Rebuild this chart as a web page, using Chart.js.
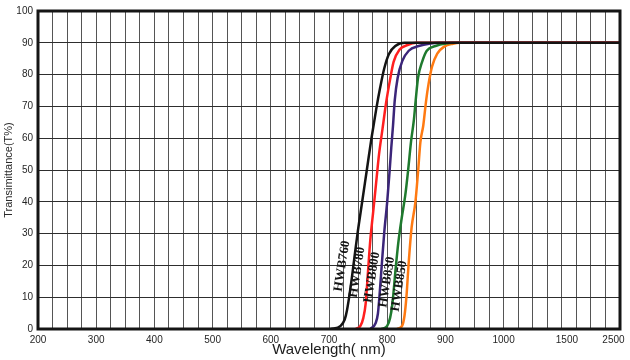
<!DOCTYPE html>
<html>
<head>
<meta charset="utf-8">
<script src="https://cdn.jsdelivr.net/npm/chart.js@4/dist/chart.umd.min.js"></script>
<style>
  html, body { margin: 0; padding: 0; background: #ffffff; }
  #wrap { width: 630px; height: 360px; }
</style>
</head>
<body>
<div id="wrap"><canvas id="c" width="630" height="360"></canvas></div>
<script>
// ---- Data ----
const xTickLabels = ['200','300','400','500','600','700','800','900','1000','1500','2500'];
const xTickNm     = [200, 300, 400, 500, 600, 700, 800, 900, 1000, 1500, 2500];
const yTicks      = [0,10,20,30,40,50,60,70,80,90,100];

const seriesNames = ['HWB760','HWB780','HWB800','HWB830','HWB850'];

const hwb760Nm = [703,720,727,731,737,743,749,757,765,773,781,788,795,803,814,830,2500];
const hwb760T  = [0,1,3,6,13,21.5,30,40,50,60,69,76,82,86.5,89,90,90];

const hwb780Nm = [746,754,759,763,767,771,776,781,786,792,798,805,811,821,835,850,2500];
const hwb780T  = [0,1,3.5,8,18,28,37,46,55,63,71,78.5,84,87.8,89.3,90,90];

const hwb800Nm = [771,780,784,787,791,795,800,804,807,810,813,818,826,837,854,874,890,2500];
const hwb800T  = [0,1.8,4.8,11,21,30.5,40,49.4,57,64,72,79,84.3,87.5,89,89.8,90,90];

const hwb830Nm = [790,800,805,809,814,819,825,831,836,841,846,849,853,860,868,883,900,915,2500];
const hwb830T  = [0,1,3.5,8,18,27,35,42,50,59,66,72,79,84,87.5,89,89.8,90,90];

const hwb850Nm = [817,825.6,829.6,833,837,842,848.5,853,857,862,867,871,877,886,898,913,925,2500];
const hwb850T  = [0,1,4,10,21,32,40,49.4,58.7,64,72,77,82.5,86.6,88.8,89.7,90,90];

// label anchor (wavelength, transmittance) for the rotated series names
const labelNm = [722.5, 748.5, 774, 799.5, 820.5];
const labelT  = [19.8, 17.8, 16.2, 14.7, 13.5];

const seriesColors = ['#141414','#ff1f1f','#3b2579','#1f7a2e','#ff7a12'];

// ---- Axis mapping: 25 nm per grid cell up to 1000 nm, compressed above ----
function nmToPos(nm) {
  if (nm <= 1000) return (nm - 200) / 25;
  if (nm <= 1500) return 32 + (nm - 1000) / 500 * 4.35;
  return 36.35 + (nm - 1500) / 1000 * 3.65;
}
// label positions for 1500 / 2500 sit slightly off the grid in the reference
const xTickPos = xTickNm.map(function (nm) {
  if (nm === 2500) return 39.55;
  return nmToPos(nm);
});

function toPoints(nms, ts) { return nms.map(function (n, i) { return { x: nmToPos(n), y: ts[i] }; }); }

const allNm = [hwb760Nm, hwb780Nm, hwb800Nm, hwb830Nm, hwb850Nm];
const allT  = [hwb760T, hwb780T, hwb800T, hwb830T, hwb850T];

const datasets = seriesNames.map(function (name, i) {
  return {
    label: name,
    data: toPoints(allNm[i], allT[i]),
    borderColor: seriesColors[i],
    backgroundColor: seriesColors[i],
    borderWidth: 2.5,
    pointRadius: 0,
    fill: false,
    cubicInterpolationMode: 'monotone',
    xAxisID: 'x',
    yAxisID: 'y'
  };
});

const framePlugin = {
  id: 'frame',
  afterDatasetsDraw(chart) {
    const a = chart.chartArea, ctx = chart.ctx;
    ctx.save();
    ctx.strokeStyle = '#151515';
    ctx.lineWidth = 3;
    ctx.strokeRect(a.left, a.top, a.right - a.left, a.bottom - a.top);
    // series name labels, rotated along the curves
    const xs = chart.scales.x, ys = chart.scales.y;
    ctx.font = 'bold 13px "Liberation Serif", "Times New Roman", serif';
    ctx.fillStyle = '#141414';
    ctx.textAlign = 'center';
    ctx.textBaseline = 'middle';
    seriesNames.forEach(function (name, i) {
      const px = xs.getPixelForValue(nmToPos(labelNm[i]));
      const py = ys.getPixelForValue(labelT[i]);
      ctx.save();
      ctx.translate(px, py);
      ctx.rotate(-81 * Math.PI / 180);
      ctx.fillText(name, 0, 0);
      ctx.restore();
    });
    ctx.restore();
  }
};

new Chart(document.getElementById('c'), {
  type: 'line',
  data: { datasets: datasets },
  options: {
    responsive: false,
    animation: false,
    layout: { padding: { left: 0, right: 10, top: 7, bottom: 0 } },
    plugins: { legend: { display: false }, tooltip: { enabled: false } },
    scales: {
      x: {
        type: 'linear', position: 'bottom', min: 0, max: 40,
        afterBuildTicks: function (s) { const t = []; for (let i = 0; i <= 40; i++) t.push({ value: i }); s.ticks = t; },
        ticks: { display: false },
        grid: { color: '#555555', lineWidth: 1, drawTicks: false },
        border: { display: false },
        afterFit: function (s) { s.height = 0; }
      },
      xl: {
        type: 'linear', position: 'bottom', min: 0, max: 40,
        afterBuildTicks: function (s) { s.ticks = xTickPos.map(function (v) { return { value: v }; }); },
        ticks: {
          autoSkip: false, maxRotation: 0, minRotation: 0, padding: 5,
          color: '#262626',
          font: { family: 'Arial, "Liberation Sans", sans-serif', size: 10 },
          callback: function (v, i) { return xTickLabels[i]; }
        },
        grid: { display: false, drawTicks: false },
        border: { display: false },
        title: {
          display: true, text: 'Wavelength( nm)', color: '#1c1c1c',
          font: { family: 'Arial, "Liberation Sans", sans-serif', size: 15 },
          padding: { top: 0, bottom: 1 }
        },
        afterFit: function (s) { s.height = 31; }
      },
      y: {
        type: 'linear', position: 'left', min: 0, max: 100,
        afterBuildTicks: function (s) { s.ticks = yTicks.map(function (v) { return { value: v }; }); },
        ticks: {
          padding: 5, color: '#262626',
          font: { family: 'Arial, "Liberation Sans", sans-serif', size: 10 }
        },
        grid: { color: '#2e2e2e', lineWidth: 1, drawTicks: false },
        border: { display: false },
        title: {
          display: true, text: 'Transimittance(T%)', color: '#2a2a2a',
          font: { family: 'Arial, "Liberation Sans", sans-serif', size: 11 },
          padding: { top: 2, bottom: 0 }
        },
        afterFit: function (s) { s.width = 38; }
      }
    }
  },
  plugins: [framePlugin]
});
</script>
</body>
</html>
